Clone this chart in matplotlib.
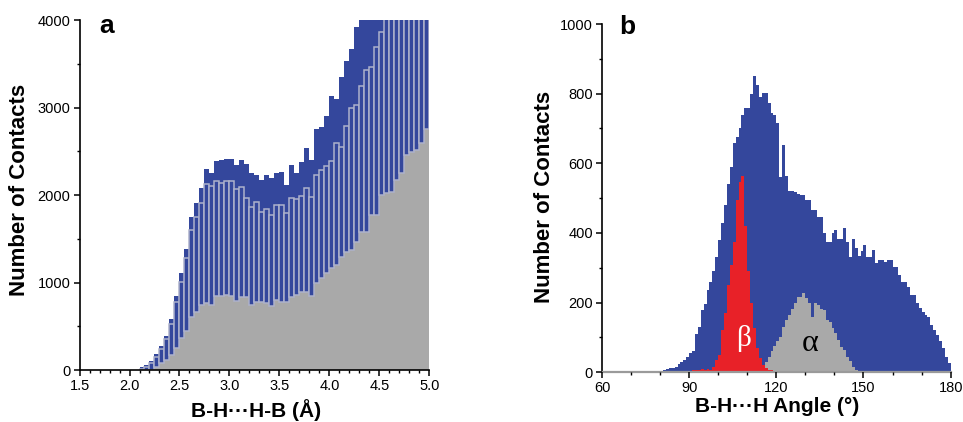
import matplotlib
matplotlib.use("Agg")
import matplotlib.pyplot as plt
import numpy as np
from matplotlib.ticker import MultipleLocator, FixedLocator

plt.rcParams['font.family'] = ['Liberation Sans', 'DejaVu Sans']

BLUE = '#34479c'
GRAY = '#a9a9a9'
LIGHT = '#adb2cb'
RED = '#e82128'

# ---------------- Panel a data (bins of 0.05 Å starting at 2.10) ----------------
a_bin_start = 2.10
a_bin_width = 0.05
a_total = [30, 60, 105, 180, 272, 394, 583, 846, 1105, 1380, 1745, 1912, 2084, 2295,
           2248, 2388, 2400, 2413, 2413, 2345, 2405, 2354, 2252, 2234, 2171, 2228,
           2192, 2256, 2268, 2120, 2346, 2255, 2378, 2533, 2400, 2754, 2781, 2903,
           3131, 3097, 3345, 3531, 3669, 3924, 4150, 4300, 4450, 4600, 4750, 4900,
           5050, 5200, 5350, 5500, 5650, 5800, 5950, 6100]
a_inner = [15, 30, 76, 145, 240, 354, 526, 781, 1002, 1276, 1600, 1752, 1905, 2122,
           2103, 2160, 2133, 2160, 2160, 2069, 2093, 1962, 1867, 1924, 1810, 1836,
           1771, 1886, 1886, 1790, 1962, 1950, 1988, 2076, 1981, 2230, 2285, 2337,
           2385, 2598, 2552, 2792, 2990, 3029, 3250, 3429, 3467, 3695, 3859, 4050,
           4100, 4200, 4250, 4350, 4400, 4500, 4550, 4650]
a_gray = [0, 0, 0, 30, 76, 114, 171, 255, 362, 446, 610, 663, 743, 762, 743, 846,
          846, 853, 846, 792, 838, 838, 747, 781, 781, 762, 731, 800, 781, 773, 838,
          857, 895, 895, 846, 990, 1048, 1105, 1162, 1200, 1295, 1352, 1371, 1467,
          1581, 1581, 1771, 1771, 2000, 2019, 2038, 2171, 2248, 2457, 2495, 2514,
          2600, 2750]
a_xticklabels = ['1.5', '2.0', '2.5', '3.0', '3.5', '4.0', '4.5', '5.0']
a_yticklabels = ['0', '1000', '2000', '3000', '4000']

# ---------------- Panel b data (bins of 1 degree) ----------------
b_blue_start = 80
b_blue = [5, 8, 10, 12, 13, 15, 25, 30, 35, 45, 55, 60, 110, 130, 180, 195, 235,
          260, 290, 330, 380, 430, 480, 540, 590, 657, 676, 702, 739, 758, 760, 800,
          851, 825, 790, 803, 803, 772, 745, 740, 715, 560, 653, 565, 520, 520, 518,
          512, 510, 509, 495, 495, 466, 466, 447, 447, 400, 375, 375, 399, 409, 384,
          384, 413, 375, 330, 384, 356, 335, 347, 366, 332, 332, 351, 313, 322, 322,
          318, 322, 322, 303, 303, 279, 260, 260, 246, 222, 222, 198, 185, 174, 165,
          160, 136, 120, 107, 90, 70, 45, 26]
b_beta_start = 80
b_beta = [3, 3, 3, 3, 3, 4, 4, 4, 4, 5, 5, 6, 6, 8, 10, 8, 10, 8, 15, 35, 50, 121,
          169, 250, 308, 375, 495, 547, 565, 420, 290, 200, 126, 69, 40, 21, 12, 8, 6,
          5, 5, 5, 5, 4, 4, 4, 4, 4, 4, 4, 4, 4, 4, 4, 4, 4, 4, 4, 4, 4, 4]
b_alpha_start = 115
b_alpha = [20, 30, 45, 60, 75, 90, 102, 131, 150, 164, 183, 200, 217, 217, 229, 212,
           198, 160, 200, 193, 183, 179, 150, 145, 126, 112, 93, 74, 64, 45, 31, 16,
           8, 3]
b_xticklabels = ['60', '90', '120', '150', '180']
b_yticklabels = ['0', '200', '400', '600', '800', '1000']

fig = plt.figure(figsize=(9.63, 4.22), dpi=100)
axa = fig.add_axes([0.0826, 0.1232, 0.3632, 0.8294])
axb = fig.add_axes([0.6251, 0.1178, 0.3621, 0.8253])

# ---- panel a ----
n_a = len(a_total)
a_edges = a_bin_start + a_bin_width * np.arange(n_a + 1)
a_left = a_edges[:-1]
a_tot = np.array(a_total, float)
a_inn = np.array(a_inner, float)
a_gr = np.array(a_gray, float)
axa.bar(a_left, a_tot, width=a_bin_width, align='edge', color=BLUE, linewidth=0)
axa.stairs(a_gr, a_edges, fill=True, facecolor=GRAY, edgecolor='none', linewidth=0)
axa.bar(a_left, a_inn - a_gr, bottom=a_gr, width=a_bin_width, align='edge',
        facecolor=BLUE, edgecolor=LIGHT, linewidth=1.1)
axa.set_xlim(1.5, 5.0)
axa.set_ylim(0, 4000)
axa.xaxis.set_major_locator(FixedLocator([float(t) for t in a_xticklabels]))
axa.set_xticklabels(a_xticklabels)
axa.xaxis.set_minor_locator(MultipleLocator(0.1))
axa.yaxis.set_major_locator(FixedLocator([float(t) for t in a_yticklabels]))
axa.set_yticklabels(a_yticklabels)
axa.yaxis.set_minor_locator(MultipleLocator(500))
axa.text(0.076, 0.984, 'a', transform=axa.transAxes, ha='center', va='center',
         fontsize=19, fontweight='bold')

# ---- panel b ----
b_blue_edges = b_blue_start + np.arange(len(b_blue) + 1)
b_beta_edges = b_beta_start + np.arange(len(b_beta) + 1)
b_alpha_edges = b_alpha_start + np.arange(len(b_alpha) + 1)
axb.stairs(b_blue, b_blue_edges, fill=True, facecolor=BLUE, edgecolor='none')
axb.stairs(b_alpha, b_alpha_edges, fill=True, facecolor=GRAY, edgecolor='none')
axb.stairs(b_beta, b_beta_edges, fill=True, facecolor=RED, edgecolor='none')
axb.set_xlim(60, 180)
axb.set_ylim(0, 1000)
axb.xaxis.set_major_locator(FixedLocator([float(t) for t in b_xticklabels]))
axb.set_xticklabels(b_xticklabels)
axb.xaxis.set_minor_locator(MultipleLocator(10))
axb.yaxis.set_major_locator(FixedLocator([float(t) for t in b_yticklabels]))
axb.set_yticklabels(b_yticklabels)
axb.yaxis.set_minor_locator(MultipleLocator(100))
axb.text(0.073, 0.99, 'b', transform=axb.transAxes, ha='center', va='center',
         fontsize=19, fontweight='bold')
axb.text(108.8, 98, 'β', color='white', fontsize=21, ha='center', va='center',
         family=['Liberation Serif', 'DejaVu Serif'])
axb.text(131.6, 84, 'α', color='black', fontsize=23, ha='center', va='center',
         family=['Liberation Serif', 'DejaVu Serif'])

for ax in (axa, axb):
    ax.spines['top'].set_visible(False)
    ax.spines['right'].set_visible(False)
    for s in ('left', 'bottom'):
        ax.spines[s].set_linewidth(1.2)
    ax.tick_params(which='major', direction='out', length=4.5, width=1.1,
                   labelsize=10.5, pad=2)
    ax.tick_params(which='minor', direction='out', length=2.5, width=1.0)
    ax.set_axisbelow(False)
axb.spines['bottom'].set_color('#9a9a9a')
axb.spines['bottom'].set_linewidth(1.6)

fig.text(256 / 963, 1 - 410 / 422, 'B-H···H-B (Å)', ha='center', va='center',
         fontsize=15, fontweight='bold')
fig.text(20 / 963, 1 - 190 / 422, 'Number of Contacts', ha='center', va='center',
         rotation=90, fontsize=16, fontweight='bold')
fig.text(777 / 963, 1 - 407 / 422, 'B-H···H Angle (°)', ha='center', va='center',
         fontsize=15, fontweight='bold')
fig.text(545 / 963, 1 - 197 / 422, 'Number of Contacts', ha='center', va='center',
         rotation=90, fontsize=16, fontweight='bold')

fig.savefig('out.png', dpi=100)
